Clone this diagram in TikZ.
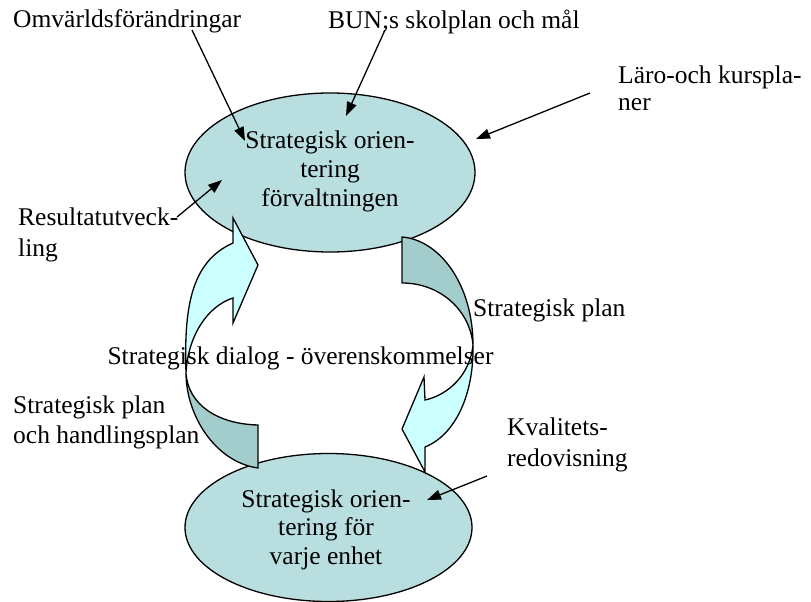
\documentclass[tikz,border=0pt]{standalone}
\usepackage{fontspec}
\setmainfont{Liberation Serif}
\usetikzlibrary{shapes.geometric,arrows.meta}
\definecolor{ellfill}{RGB}{185,222,224}
\definecolor{arrlight}{RGB}{204,255,255}
\definecolor{arrdark}{RGB}{163,204,204}
\begin{document}
\begin{tikzpicture}[x=1pt,y=-1pt,
  ell/.style={ellipse, draw, line width=1.3pt, fill=ellfill, inner sep=0pt},
  band/.style={draw, line width=1.3pt},
  lbl/.style={inner sep=0pt, font=\fontsize{25.5}{29}\selectfont},
  pointer/.style={draw, line width=1.3pt, -{Triangle[length=14pt,width=10pt]}}]
\useasboundingbox (0,0) rectangle (811,602);
% ellipses
\node[ell, minimum width=290pt, minimum height=159pt] (topell) at (330,172.5) {};
\node[ell, minimum width=287pt, minimum height=148pt] (botell) at (328.5,527.5) {};
% left curved arrow
\filldraw[band, fill=arrlight] (186,373) .. controls (184,310) and (190,262) .. (233,243)
  -- (233,218) -- (258,265) -- (233,323) -- (233,298)
  .. controls (208,306) and (188,335) .. (186,373) -- cycle;
\filldraw[band, fill=arrdark] (186,373) .. controls (186,415) and (215,462) .. (258,468)
  -- (258,425) .. controls (218,424) and (188,405) .. (186,373) -- cycle;
% right curved arrow
\filldraw[band, fill=arrdark] (402,237) .. controls (440,240) and (473,285) .. (473,345)
  .. controls (470,310) and (440,283) .. (402,283) -- cycle;
\filldraw[band, fill=arrlight] (473,345) .. controls (474,395) and (455,435) .. (425,447)
  -- (425,472) -- (402,429) -- (424,377) -- (425,400)
  .. controls (448,395) and (470,375) .. (473,345) -- cycle;
% texts in ellipses
\node[lbl, anchor=base, font=\fontsize{25.5}{29.3}\selectfont] (toptext) at (330,148)
  {\begin{tabular}[t]{@{}c@{}}Strategisk orien-\\tering\\förvaltningen\end{tabular}};
\node[lbl, anchor=base, font=\fontsize{25.5}{28.5}\selectfont] (bottext) at (326,507)
  {\begin{tabular}[t]{@{}c@{}}Strategisk orien-\\tering för\\varje enhet\end{tabular}};
% labels
\node[lbl, anchor=base west] (omv) at (13,28) {Omvärldsförändringar};
\node[lbl, anchor=base west] (bun) at (328,29) {BUN;s skolplan och mål};
\node[lbl, anchor=base west, font=\fontsize{25.5}{28}\selectfont] (laro) at (618,83)
  {\begin{tabular}[t]{@{}l@{}}Läro-och kurspla-\\ner\end{tabular}};
\node[lbl, anchor=base west, font=\fontsize{25.5}{31}\selectfont] (res) at (18,225)
  {\begin{tabular}[t]{@{}l@{}}Resultatutveck-\\ling\end{tabular}};
\node[lbl, anchor=base west] (splan) at (473,316) {Strategisk plan};
\node[lbl, anchor=base] (dialog) at (300.5,364) {Strategisk dialog - överenskommelser};
\node[lbl, anchor=base west, font=\fontsize{25.5}{30}\selectfont] (shplan) at (13,413)
  {\begin{tabular}[t]{@{}l@{}}Strategisk plan\\och handlingsplan\end{tabular}};
\node[lbl, anchor=base west, font=\fontsize{25.5}{31}\selectfont] (kval) at (507,435)
  {\begin{tabular}[t]{@{}l@{}}Kvalitets-\\redovisning\end{tabular}};
% pointer coordinates
\coordinate (omvS) at (192,30);  \coordinate (omvT) at (245,141);
\coordinate (bunS) at (385,30);  \coordinate (bunT) at (346,116);
\coordinate (laroS) at (590,93); \coordinate (laroT) at (476,139);
\coordinate (resS) at (177,217); \coordinate (resT) at (222,180);
\coordinate (kvalS) at (487,476); \coordinate (kvalT) at (427,500);
\draw[pointer] (omvS) -- (omvT);
\draw[pointer] (bunS) -- (bunT);
\draw[pointer] (laroS) -- (laroT);
\draw[pointer] (resS) -- (resT);
\draw[pointer] (kvalS) -- (kvalT);
\end{tikzpicture}
\end{document}
